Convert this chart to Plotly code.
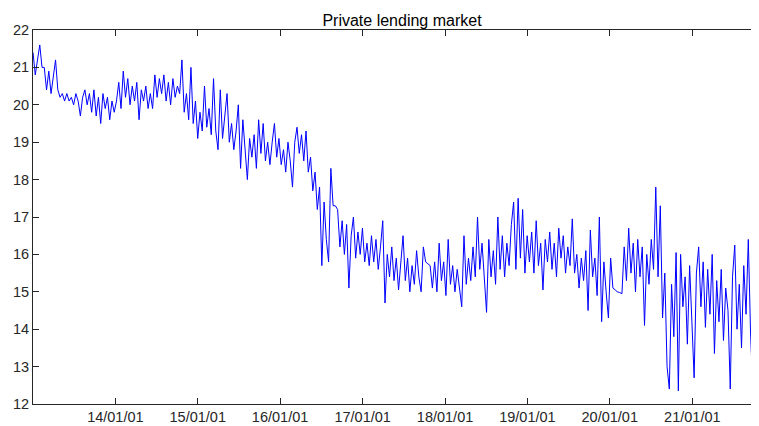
import pandas as pd
import plotly.graph_objects as go

start_date = "2013-01-01"
step = "10D"

values_2013 = [21.4, 20.8, 21.2, 21.6, 21.0, 21.0, 20.4, 20.9, 20.3, 20.7, 21.2, 20.4, 20.2,
               20.3, 20.1, 20.3, 20.1, 20.2, 20.0, 20.3, 20.1, 19.7, 20.2, 20.4, 20.0, 20.3,
               19.8, 20.4, 19.7, 20.2, 19.5, 20.3, 19.9, 20.2, 19.6, 20.1, 19.8]
values_2014 = [20.1, 20.6, 19.9, 20.9, 20.2, 20.7, 20.0, 20.5, 20.1, 20.6, 19.6, 20.4, 20.1,
               20.5, 19.9, 20.3, 19.9, 20.8, 20.2, 20.7, 20.3, 20.8, 20.1, 20.6, 20.0, 20.7,
               20.2, 20.5, 20.3, 21.2, 19.8, 20.3, 19.6, 21.0, 19.5, 20.1, 19.1]
values_2015 = [19.8, 19.3, 20.5, 19.4, 19.9, 19.2, 20.7, 19.3, 18.8, 20.4, 19.1, 19.7, 20.3,
               19.0, 19.5, 18.8, 19.3, 20.0, 18.3, 19.6, 18.7, 18.0, 19.1, 18.6, 19.2, 18.3,
               19.6, 18.7, 19.5, 18.5, 19.0, 18.4, 19.0, 19.5, 18.6, 19.1, 18.4]
values_2016 = [18.8, 18.2, 19.0, 18.5, 17.8, 19.0, 19.4, 18.7, 19.2, 18.5, 19.3, 18.2, 18.6,
               17.7, 18.2, 17.2, 17.8, 15.7, 17.4, 16.4, 15.8, 18.3, 17.3, 17.3, 17.2, 16.2,
               16.9, 16.0, 16.8, 15.1, 16.5, 17.0, 15.9, 16.6, 16.0, 16.7, 15.8]
values_2017 = [16.3, 15.7, 16.5, 15.8, 16.4, 15.6, 16.2, 16.9, 14.7, 16.0, 15.4, 16.2, 15.3,
               15.9, 15.05, 15.8, 16.5, 15.3, 15.9, 15.0, 15.7, 15.2, 16.1, 15.4, 15.0, 16.2,
               15.8, 15.75, 15.7, 15.1, 15.8, 15.0, 16.3, 15.3, 15.8, 14.9, 16.4]
values_2018 = [15.2, 15.7, 15.0, 15.6, 15.1, 14.6, 16.5, 15.2, 15.9, 15.3, 16.2, 15.4, 17.0,
               15.6, 16.3, 15.5, 14.45, 16.4, 15.4, 16.1, 15.2, 17.0, 15.6, 16.5, 15.4, 16.3,
               15.7, 16.8, 17.4, 15.6, 17.5, 15.9, 17.2, 15.5, 16.5, 15.8, 16.6]
values_2019 = [15.5, 16.9, 15.7, 16.3, 15.05, 16.4, 15.8, 16.6, 15.6, 16.3, 15.4, 16.7, 15.9,
               16.5, 15.5, 16.2, 15.7, 16.95, 15.5, 16.0, 15.1, 15.9, 15.3, 16.1, 14.5, 16.65,
               15.4, 15.9, 14.9, 17.0, 14.2, 15.8, 15.0, 14.3, 15.9, 15.1, 15.05]
values_2020 = [15.0, 14.98, 14.95, 16.2, 15.3, 16.7, 15.5, 16.3, 15.0, 16.4, 15.4, 16.2, 14.1,
               16.0, 15.2, 16.4, 15.6, 17.8, 15.4, 17.3, 14.3, 15.5, 13.0, 12.4, 15.2, 13.8,
               16.05, 12.35, 16.0, 14.6, 15.4, 13.6, 15.7, 14.2, 12.7, 15.5, 16.2]
values_2021 = [14.6, 15.8, 14.05, 15.6, 14.4, 16.0, 13.35, 15.3, 14.2, 15.6, 13.7, 15.1, 14.5,
               12.4, 15.4, 16.25, 14.0, 15.2, 13.5, 15.7, 14.4, 16.4, 13.9, 12.4, 15.3, 16.4,
               13.3]

y_ticks = [12, 13, 14, 15, 16, 17, 18, 19, 20, 21, 22]
x_ticks = ["2014-01-01", "2015-01-01", "2016-01-01", "2017-01-01",
           "2018-01-01", "2019-01-01", "2020-01-01", "2021-01-01"]
title_text = "Private lending market"

values = (values_2013 + values_2014 + values_2015 + values_2016 + values_2017
          + values_2018 + values_2019 + values_2020 + values_2021)
dates = pd.date_range(start_date, periods=len(values), freq=step)

axis_color = "#262626"
font_family = "Liberation Sans, Arial, Helvetica, sans-serif"

# The page body has an 8px default margin, so the figure is sized 8px smaller.
W, H = 751, 418

fig = go.Figure()
fig.add_trace(go.Scatter(x=dates, y=values, mode="lines",
                         line=dict(color="#0000ff", width=1), showlegend=False))

fig.update_layout(
    width=W, height=H,
    margin=dict(l=25, r=1, t=22, b=22, autoexpand=False),
    paper_bgcolor="white", plot_bgcolor="white",
    font=dict(family=font_family, size=14.5, color=axis_color),
    title=dict(text=title_text, x=(402 - 8) / W, xref="container", xanchor="center",
               y=1 - (20 - 8) / H, yref="container", yanchor="middle",
               font=dict(family=font_family, size=16, color="#000000")),
)
fig.update_xaxes(
    range=["2013-01-01", "2021-10-19"], tickvals=x_ticks, tickformat="%y/%m/%d",
    ticks="inside", ticklen=6, tickwidth=1, tickcolor=axis_color,
    showline=True, linecolor=axis_color, linewidth=1, mirror="ticks",
    showgrid=False, zeroline=False, tickfont=dict(size=14.5, color=axis_color),
)
fig.update_yaxes(
    range=[12, 22], tickvals=y_ticks,
    ticks="inside", ticklen=6, tickwidth=1, tickcolor=axis_color,
    showline=True, linecolor=axis_color, linewidth=1, mirror="ticks",
    showgrid=False, zeroline=False, tickfont=dict(size=14.5, color=axis_color),
)

fig.write_html("out.html")
